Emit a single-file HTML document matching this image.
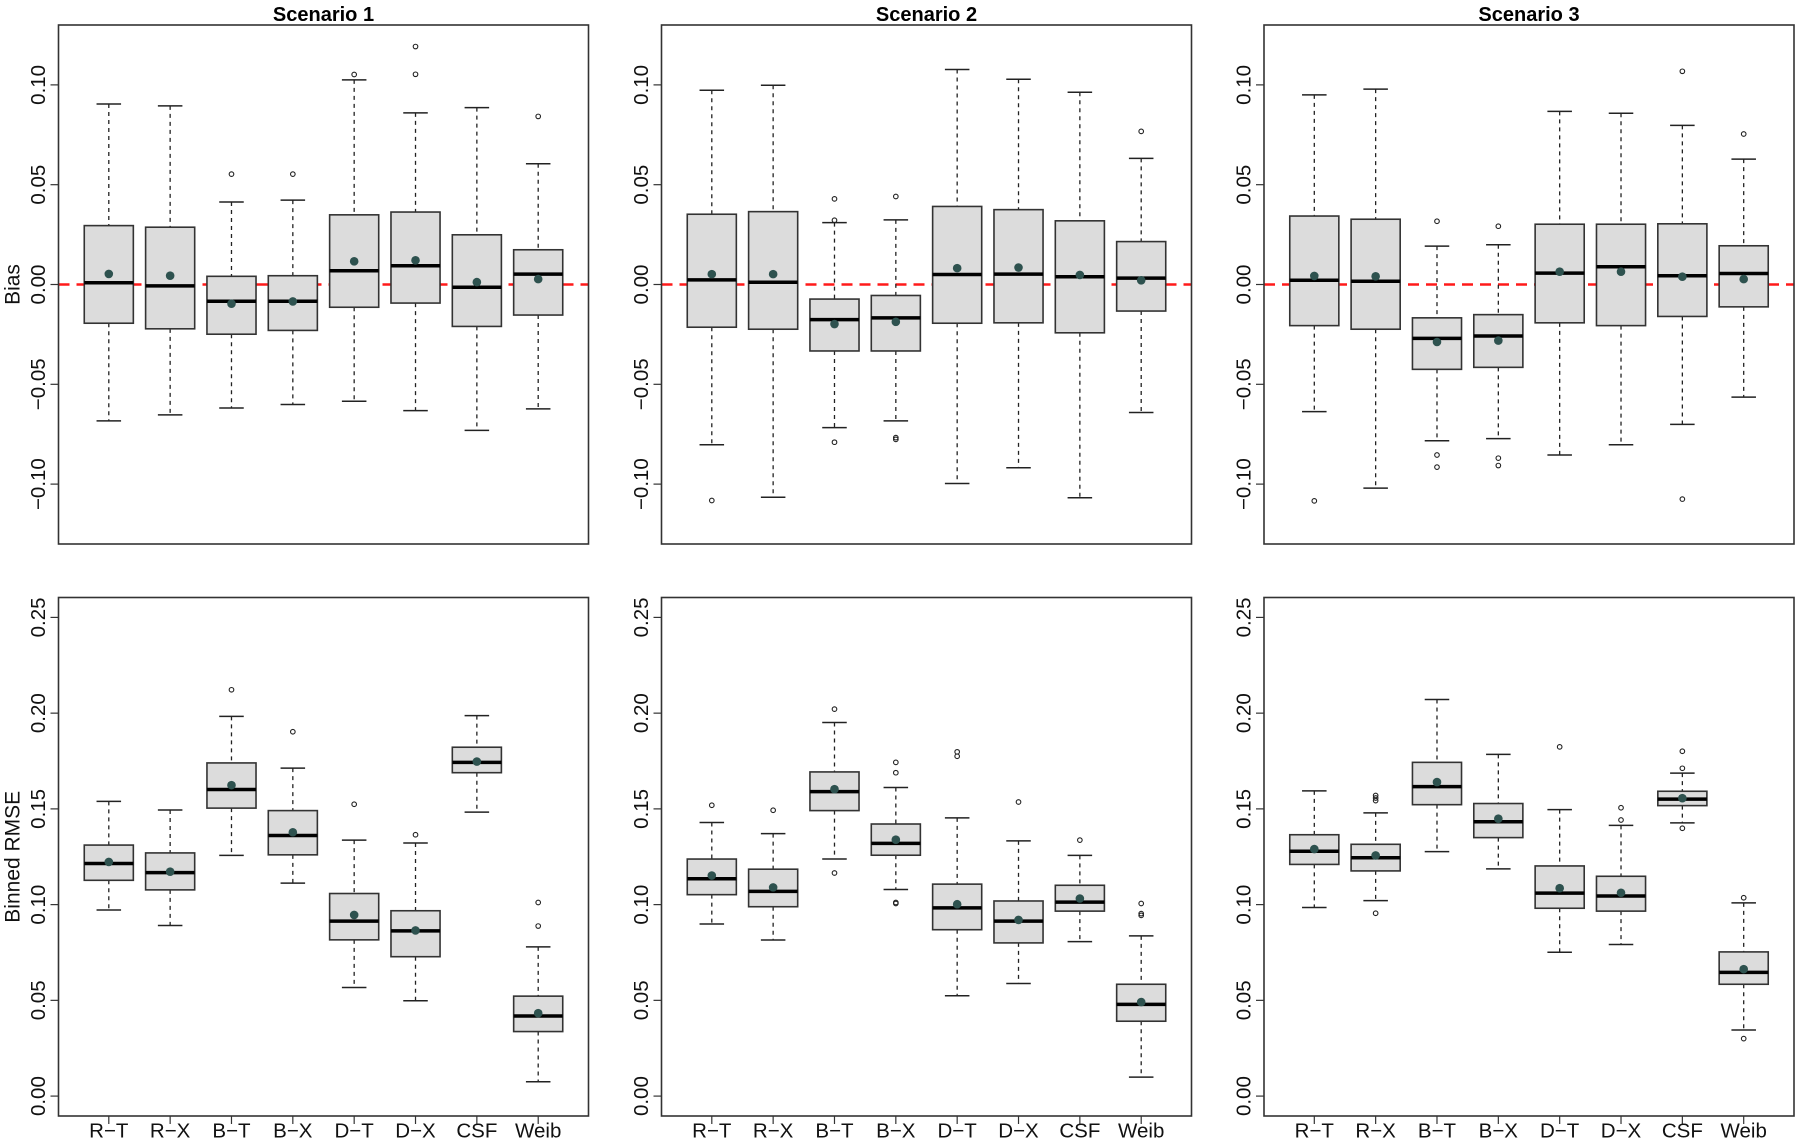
<!DOCTYPE html>
<html><head><meta charset="utf-8"><style>
html,body{margin:0;padding:0;background:#fff;}
svg{display:block;font-family:"Liberation Sans",Arial,sans-serif;}
</style></head><body>
<svg id="chart" width="1800" height="1144" viewBox="0 0 1800 1144" xmlns="http://www.w3.org/2000/svg"></svg>
<script>
const categories = ["R\u2212T","R\u2212X","B\u2212T","B\u2212X","D\u2212T","D\u2212X","CSF","Weib"];
const scenarioTitles = ["Scenario 1","Scenario 2","Scenario 3"];
const biasTicks = [-0.10,-0.05,0.00,0.05,0.10];
const biasTickLabels = ["\u22120.10","\u22120.05","0.00","0.05","0.10"];
const rmseTicks = [0,0.05,0.10,0.15,0.20,0.25];
const rmseTickLabels = ["0.00","0.05","0.10","0.15","0.20","0.25"];

// Bias, scenario 1
const biasS1Lo  = [-0.0683,-0.0653,-0.0619,-0.0601,-0.0585,-0.0632,-0.0731,-0.0623];
const biasS1Q1  = [-0.0194,-0.0222,-0.0249,-0.0230,-0.0114,-0.0093,-0.0210,-0.0153];
const biasS1Med = [0.0009,-0.0007,-0.0084,-0.0084,0.0069,0.0094,-0.0014,0.0052];
const biasS1Q3  = [0.0295,0.0287,0.0041,0.0044,0.0349,0.0363,0.0249,0.0174];
const biasS1Hi  = [0.0904,0.0895,0.0413,0.0423,0.1025,0.0860,0.0886,0.0605];
const biasS1Mean= [0.0053,0.0044,-0.0096,-0.0085,0.0116,0.0121,0.0012,0.0027];
const biasS1Out = [[],[],[0.0553],[0.0553],[0.1052],[0.1053,0.1192],[],[0.0842]];
// Bias, scenario 2
const biasS2Lo  = [-0.0803,-0.1066,-0.0717,-0.0683,-0.0997,-0.0918,-0.1068,-0.0641];
const biasS2Q1  = [-0.0214,-0.0224,-0.0333,-0.0333,-0.0194,-0.0192,-0.0242,-0.0133];
const biasS2Med = [0.0023,0.0011,-0.0176,-0.0167,0.0050,0.0052,0.0039,0.0032];
const biasS2Q3  = [0.0352,0.0365,-0.0073,-0.0055,0.0391,0.0375,0.0319,0.0215];
const biasS2Hi  = [0.0973,0.0998,0.0310,0.0324,0.1077,0.1028,0.0963,0.0632];
const biasS2Mean= [0.0052,0.0052,-0.0198,-0.0187,0.0082,0.0085,0.0048,0.0021];
const biasS2Out = [[-0.1082],[],[0.0429,0.0322,-0.0790],[0.0441,-0.0767,-0.0776],[],[],[],[0.0767]];
// Bias, scenario 3
const biasS3Lo  = [-0.0637,-0.1020,-0.0783,-0.0772,-0.0854,-0.0803,-0.0701,-0.0564];
const biasS3Q1  = [-0.0206,-0.0224,-0.0425,-0.0415,-0.0192,-0.0206,-0.0160,-0.0112];
const biasS3Med = [0.0021,0.0016,-0.0270,-0.0258,0.0057,0.0089,0.0044,0.0055];
const biasS3Q3  = [0.0343,0.0327,-0.0167,-0.0151,0.0302,0.0302,0.0304,0.0194];
const biasS3Hi  = [0.0950,0.0979,0.0192,0.0199,0.0867,0.0858,0.0797,0.0628];
const biasS3Mean= [0.0043,0.0041,-0.0288,-0.0281,0.0064,0.0064,0.0039,0.0027];
const biasS3Out = [[-0.1084],[],[0.0317,-0.0854,-0.0915],[0.0292,-0.0870,-0.0907],[],[],[0.1068,-0.1075],[0.0754]];
// RMSE, scenario 1
const rmseS1Lo  = [0.0972,0.0891,0.1257,0.1112,0.0567,0.0498,0.1483,0.0075];
const rmseS1Q1  = [0.1127,0.1077,0.1504,0.1260,0.0816,0.0728,0.1689,0.0337];
const rmseS1Med = [0.1215,0.1167,0.1601,0.1361,0.0914,0.0863,0.1743,0.0418];
const rmseS1Q3  = [0.1311,0.1270,0.1740,0.1491,0.1058,0.0968,0.1822,0.0522];
const rmseS1Hi  = [0.1539,0.1494,0.1983,0.1713,0.1337,0.1322,0.1987,0.0779];
const rmseS1Mean= [0.1223,0.1172,0.1624,0.1378,0.0946,0.0865,0.1747,0.0433];
const rmseS1Out = [[],[],[0.2122],[0.1903],[0.1524],[0.1365],[],[0.1011,0.0888]];
// RMSE, scenario 2
const rmseS2Lo  = [0.0899,0.0815,0.1238,0.1079,0.0524,0.0588,0.0807,0.0099];
const rmseS2Q1  = [0.1052,0.0989,0.1491,0.1258,0.0869,0.0800,0.0966,0.0391];
const rmseS2Med = [0.1135,0.1069,0.1590,0.1320,0.0983,0.0914,0.1013,0.0479];
const rmseS2Q3  = [0.1238,0.1185,0.1693,0.1421,0.1107,0.1019,0.1101,0.0584];
const rmseS2Hi  = [0.1429,0.1371,0.1951,0.1612,0.1453,0.1333,0.1257,0.0837];
const rmseS2Mean= [0.1152,0.1090,0.1603,0.1339,0.1002,0.0920,0.1032,0.0491];
const rmseS2Out = [[0.1519],[0.1493],[0.2021,0.1165],[0.1743,0.1689,0.1011,0.1006],[0.1798,0.1775],[0.1536],[0.1337],[0.1006,0.0953,0.0944]];
// RMSE, scenario 3
const rmseS3Lo  = [0.0985,0.1021,0.1277,0.1187,0.0751,0.0792,0.1427,0.0345];
const rmseS3Q1  = [0.1210,0.1176,0.1522,0.1350,0.0981,0.0966,0.1517,0.0584];
const rmseS3Med = [0.1279,0.1245,0.1616,0.1433,0.1060,0.1045,0.1551,0.0646];
const rmseS3Q3  = [0.1365,0.1315,0.1743,0.1528,0.1202,0.1148,0.1592,0.0753];
const rmseS3Hi  = [0.1594,0.1479,0.2071,0.1785,0.1496,0.1414,0.1687,0.1009];
const rmseS3Mean= [0.1290,0.1257,0.1640,0.1449,0.1086,0.1062,0.1556,0.0663];
const rmseS3Out = [[],[0.1570,0.1557,0.1543,0.0955],[],[],[0.1824],[0.1506,0.1442],[0.1801,0.1712,0.1399],[0.1036,0.0300]];

const NS = "http://www.w3.org/2000/svg";
const svg = document.getElementById("chart");
function mk(tag, attrs, parent){
  const e = document.createElementNS(NS, tag);
  for (const k in attrs) e.setAttribute(k, attrs[k]);
  (parent||svg).appendChild(e);
  return e;
}
const colX = [58.5, 661.5, 1264];
const panelW = 530;
const rows = [
  {top:25, bot:544, ymin:-0.13, ymax:0.13, ticks:biasTicks, labels:biasTickLabels, title:"Bias"},
  {top:597.5, bot:1116, ymin:-0.0104, ymax:0.2604, ticks:rmseTicks, labels:rmseTickLabels, title:"Binned RMSE"}
];
const panels = [
  [ [biasS1Lo,biasS1Q1,biasS1Med,biasS1Q3,biasS1Hi,biasS1Mean,biasS1Out],
    [biasS2Lo,biasS2Q1,biasS2Med,biasS2Q3,biasS2Hi,biasS2Mean,biasS2Out],
    [biasS3Lo,biasS3Q1,biasS3Med,biasS3Q3,biasS3Hi,biasS3Mean,biasS3Out] ],
  [ [rmseS1Lo,rmseS1Q1,rmseS1Med,rmseS1Q3,rmseS1Hi,rmseS1Mean,rmseS1Out],
    [rmseS2Lo,rmseS2Q1,rmseS2Med,rmseS2Q3,rmseS2Hi,rmseS2Mean,rmseS2Out],
    [rmseS3Lo,rmseS3Q1,rmseS3Med,rmseS3Q3,rmseS3Hi,rmseS3Mean,rmseS3Out] ]
];

for (let r = 0; r < 2; r++) {
  const row = rows[r];
  for (let c = 0; c < 3; c++) {
    const x0 = colX[c], x1 = x0 + panelW;
    const g = mk("g", {});
    
    
    const yS = v => row.bot - (v - row.ymin) / (row.ymax - row.ymin) * (row.bot - row.top);
    const unit = panelW / 8.64;
    const xS = i => x0 + (i + 1 - 0.5 + 0.32) * unit;
    const bw = 0.8 * unit;
    row.ticks.forEach((t, k) => {
      const y = yS(t);
      const tk = mk("line", {x1:x0-8, x2:x0, y1:y, y2:y, stroke:"#333", "stroke-width":1.2}, g);
      
      
      const tl = mk("text", {x:x0-20, y:y, "font-size":20.5, "text-anchor":"middle", "dominant-baseline":"central", transform:`rotate(-90 ${x0-20} ${y})`, fill:"#111"}, g);
      tl.textContent = row.labels[k];
      
      
    });
    if (r === 0) {
      const ref = mk("line", {x1:x0, x2:x1, y1:yS(0), y2:yS(0), stroke:"#ff1a1a", "stroke-width":2.6, "stroke-dasharray":"11 7"}, g);
      
      
      const tt = mk("text", {x:(x0+x1)/2, y:15, "font-size":20, "font-weight":"bold", "text-anchor":"middle", "dominant-baseline":"central", fill:"#000"}, g);
      tt.textContent = scenarioTitles[c];
      
      
    }
    const [lo,q1,med,q3,hi,mean,out] = panels[r][c];
    for (let i = 0; i < 8; i++) {
      const cx = xS(i);
      const bx = mk("g", {}, g);
      
      
      const dash = {stroke:"#222", "stroke-width":1.3, "stroke-dasharray":"4 4"};
      mk("line", Object.assign({x1:cx,x2:cx,y1:yS(hi[i]),y2:yS(q3[i])}, dash), bx);
      mk("line", Object.assign({x1:cx,x2:cx,y1:yS(q1[i]),y2:yS(lo[i])}, dash), bx);
      mk("line", {x1:cx-bw/4,x2:cx+bw/4,y1:yS(hi[i]),y2:yS(hi[i]),stroke:"#222","stroke-width":1.5}, bx);
      mk("line", {x1:cx-bw/4,x2:cx+bw/4,y1:yS(lo[i]),y2:yS(lo[i]),stroke:"#222","stroke-width":1.5}, bx);
      mk("rect", {x:cx-bw/2, y:yS(q3[i]), width:bw, height:yS(q1[i])-yS(q3[i]), fill:"#dcdcdc", stroke:"#333", "stroke-width":1.6}, bx);
      mk("line", {x1:cx-bw/2,x2:cx+bw/2,y1:yS(med[i]),y2:yS(med[i]),stroke:"#000","stroke-width":3.5}, bx);
      out[i].forEach(v => {
        const o = mk("circle", {cx:cx, cy:yS(v), r:2.3, fill:"none", stroke:"#222", "stroke-width":1.1}, bx);
        
        
      });
      const m = mk("circle", {cx:cx, cy:yS(mean[i]), r:4.3, fill:"#2e524f"}, bx);
      
      
      if (r === 1) {
        mk("line", {x1:cx,x2:cx,y1:row.bot,y2:row.bot+8,stroke:"#333","stroke-width":1.2}, g);
        const xl = mk("text", {x:cx, y:1131, "font-size":20.5, "text-anchor":"middle", "dominant-baseline":"central", fill:"#111"}, g);
        xl.textContent = categories[i];
        
        
      }
    }
    const fr = mk("rect", {x:x0, y:row.top, width:panelW, height:row.bot-row.top, fill:"none", stroke:"#333", "stroke-width":1.6}, g);
    
    
    if (c === 0) {
      const yc = (row.top + row.bot) / 2;
      const yt = mk("text", {x:13, y:yc, "font-size":21, "text-anchor":"middle", "dominant-baseline":"central", transform:`rotate(-90 13 ${yc})`, fill:"#111"}, g);
      yt.textContent = row.title;
      
      
    }
  }
}
</script>
</body></html>
